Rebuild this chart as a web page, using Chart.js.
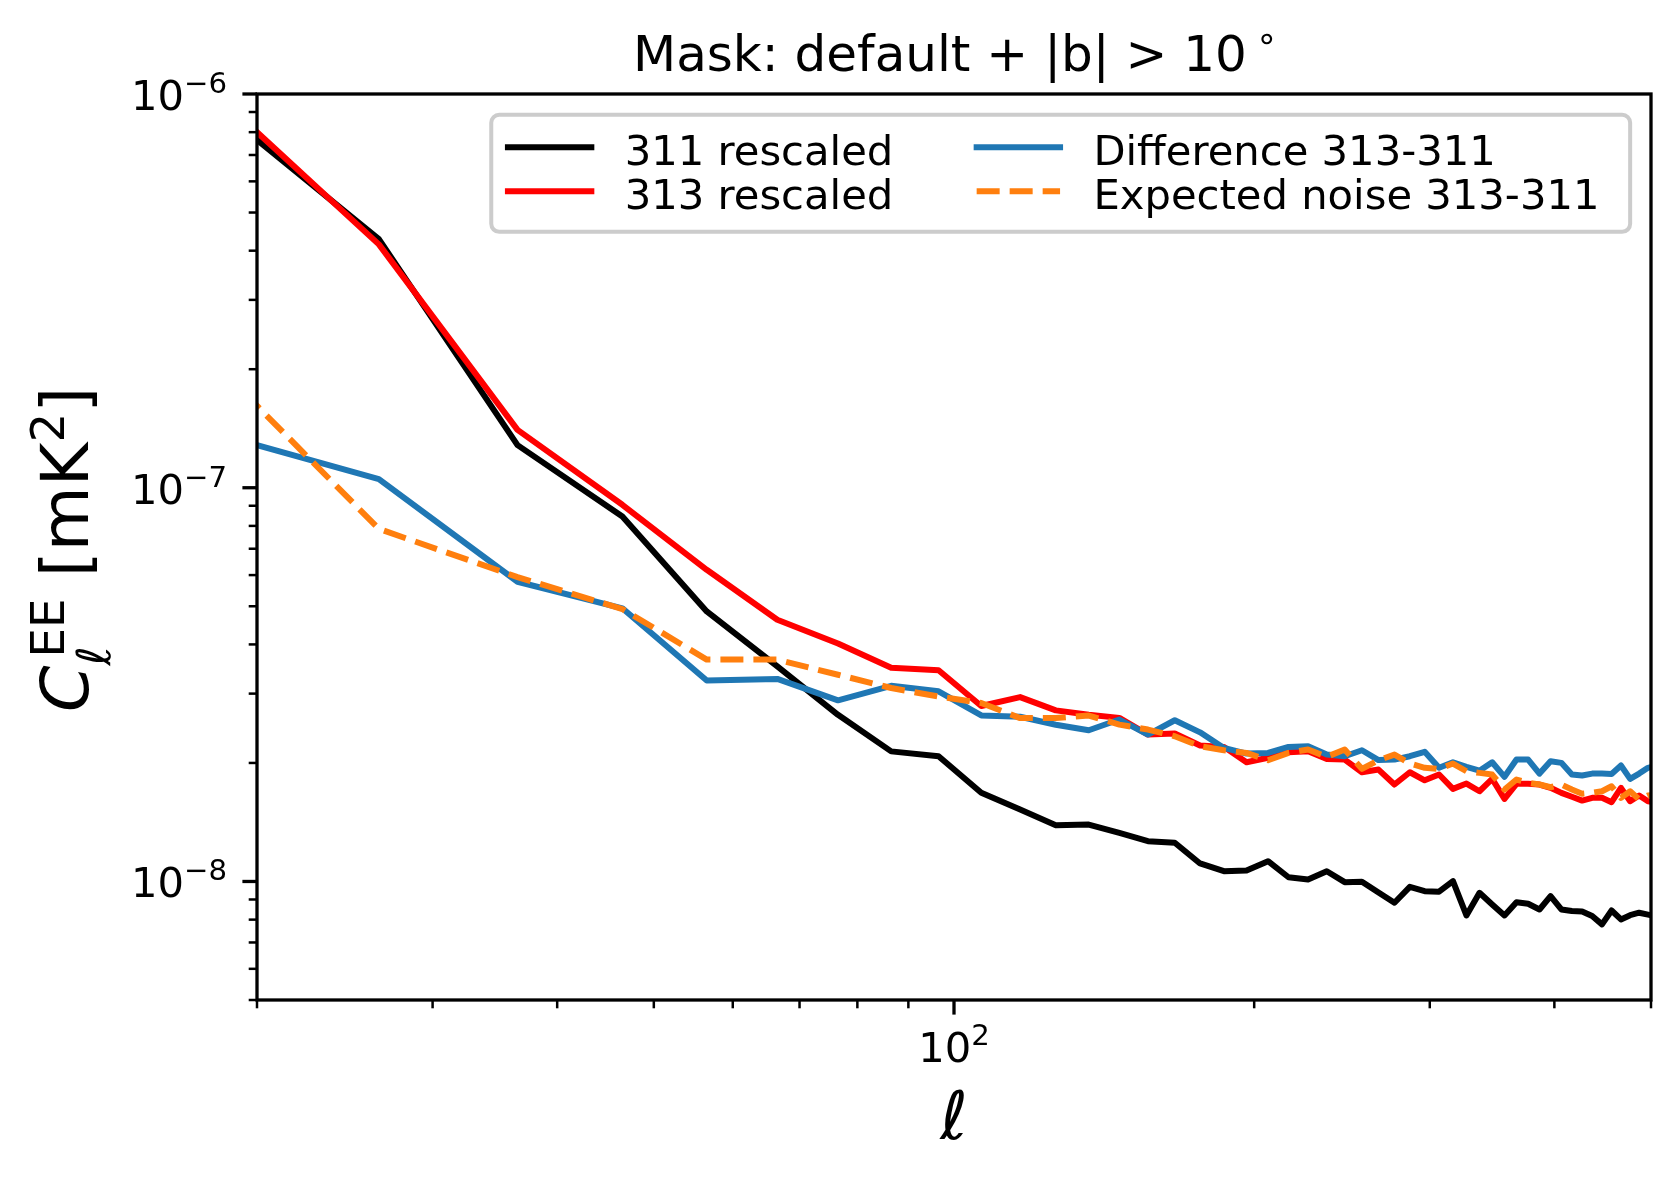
<!DOCTYPE html>
<html>
<head>
<meta charset="utf-8">
<script src="https://cdn.jsdelivr.net/npm/chart.js@4.4.0/dist/chart.umd.min.js"></script>
<style>
html, body { margin: 0; padding: 0; background: #fff; }
canvas { display: block; }
</style>
</head>
<body>
<canvas id="myChart" width="1680" height="1181"></canvas>
<script>
// binned multipoles (first and last bin fall just outside the plotted range)
var ells = [16.5, 26.5, 36.5, 46.5, 56.5, 66.5, 76.5, 86.5, 96.5, 106.5,
  116.5, 126.5, 136.5, 146.5, 156.5, 166.5, 176.5, 186.5, 196.5, 206.5,
  216.5, 226.5, 236.5, 246.5, 256.5, 266.5, 276.5, 286.5, 296.5, 306.5,
  316.5, 326.5, 336.5, 346.5, 356.5, 366.5, 376.5, 386.5, 396.5, 406.5,
  416.5, 426.5, 436.5, 446.5, 456.5, 466.5, 476.5, 486.5, 496.5, 506.5];

var cl311 = [1.136e-6, 4.28e-7, 1.283e-7, 8.45e-8, 4.85e-8, 3.52e-8, 2.65e-8, 2.14e-8, 2.08e-8, 1.68e-8,
  1.523e-8, 1.39e-8, 1.395e-8, 1.329e-8, 1.266e-8, 1.254e-8, 1.111e-8, 1.062e-8, 1.066e-8, 1.126e-8,
  1.025e-8, 1.012e-8, 1.062e-8, 9.96e-9, 9.98e-9, 9.38e-9, 8.83e-9, 9.69e-9, 9.45e-9, 9.42e-9,
  1.002e-8, 8.20e-9, 9.36e-9, 8.74e-9, 8.20e-9, 8.86e-9, 8.78e-9, 8.49e-9, 9.18e-9, 8.49e-9,
  8.41e-9, 8.39e-9, 8.17e-9, 7.78e-9, 8.44e-9, 8.01e-9, 8.21e-9, 8.33e-9, 8.24e-9, 8.15e-9];

var cl313 = [1.254e-6, 4.15e-7, 1.403e-7, 9.05e-8, 6.19e-8, 4.62e-8, 4.02e-8, 3.49e-8, 3.44e-8, 2.79e-8,
  2.94e-8, 2.72e-8, 2.65e-8, 2.603e-8, 2.361e-8, 2.375e-8, 2.214e-8, 2.197e-8, 2.008e-8, 2.061e-8,
  2.129e-8, 2.141e-8, 2.048e-8, 2.040e-8, 1.894e-8, 1.924e-8, 1.763e-8, 1.894e-8, 1.807e-8, 1.869e-8,
  1.719e-8, 1.773e-8, 1.695e-8, 1.822e-8, 1.621e-8, 1.770e-8, 1.770e-8, 1.763e-8, 1.729e-8, 1.679e-8,
  1.641e-8, 1.605e-8, 1.631e-8, 1.631e-8, 1.590e-8, 1.729e-8, 1.599e-8, 1.653e-8, 1.599e-8, 1.587e-8];

var diff = [1.469e-7, 1.052e-7, 5.77e-8, 4.94e-8, 3.24e-8, 3.27e-8, 2.885e-8, 3.14e-8, 3.04e-8, 2.64e-8,
  2.62e-8, 2.50e-8, 2.421e-8, 2.578e-8, 2.361e-8, 2.567e-8, 2.392e-8, 2.184e-8, 2.113e-8, 2.121e-8,
  2.197e-8, 2.205e-8, 2.100e-8, 2.080e-8, 2.154e-8, 2.034e-8, 2.040e-8, 2.080e-8, 2.134e-8, 1.944e-8,
  2.008e-8, 1.955e-8, 1.912e-8, 2.008e-8, 1.844e-8, 2.040e-8, 2.040e-8, 1.879e-8, 2.020e-8, 2.001e-8,
  1.869e-8, 1.858e-8, 1.879e-8, 1.879e-8, 1.876e-8, 1.970e-8, 1.822e-8, 1.879e-8, 1.944e-8, 1.970e-8];

var noise = [2.64e-7, 7.86e-8, 5.93e-8, 4.92e-8, 3.66e-8, 3.66e-8, 3.35e-8, 3.10e-8, 2.95e-8, 2.84e-8,
  2.60e-8, 2.60e-8, 2.638e-8, 2.503e-8, 2.431e-8, 2.338e-8, 2.205e-8, 2.154e-8, 2.121e-8, 2.032e-8,
  2.121e-8, 2.163e-8, 2.073e-8, 2.163e-8, 1.932e-8, 2.032e-8, 2.100e-8, 1.993e-8, 1.944e-8, 1.932e-8,
  1.993e-8, 1.905e-8, 1.887e-8, 1.869e-8, 1.712e-8, 1.815e-8, 1.781e-8, 1.763e-8, 1.735e-8, 1.763e-8,
  1.712e-8, 1.670e-8, 1.679e-8, 1.695e-8, 1.745e-8, 1.631e-8, 1.695e-8, 1.615e-8, 1.653e-8, 1.663e-8];

var xTicks = [20, 30, 40, 50, 60, 70, 80, 90, 100, 200, 300, 400, 500];
var yTicks = [5e-9, 6e-9, 7e-9, 8e-9, 9e-9,
  1e-8, 2e-8, 3e-8, 4e-8, 5e-8, 6e-8, 7e-8, 8e-8, 9e-8,
  1e-7, 2e-7, 3e-7, 4e-7, 5e-7, 6e-7, 7e-7, 8e-7, 9e-7, 1e-6];

var titleText = 'Mask: default + |b| > 10';
var FONT = '"DejaVu Sans", sans-serif';

function pts(vals) {
  return ells.map(function(l, i) { return { x: l, y: vals[i] }; });
}

function isPow10(v) {
  var l = Math.log10(v);
  return Math.abs(l - Math.round(l)) < 1e-9;
}

// "10" with a raised exponent, y is the baseline
function drawPow(ctx, x, y, exp, size, align) {
  ctx.font = size + 'px ' + FONT;
  var w1 = ctx.measureText('10').width;
  var ss = size * 0.7;
  ctx.font = ss + 'px ' + FONT;
  var w2 = ctx.measureText(exp).width;
  var x0 = align === 'right' ? x - w1 - w2 : x - (w1 + w2) / 2;
  ctx.textAlign = 'left';
  ctx.textBaseline = 'alphabetic';
  ctx.font = size + 'px ' + FONT;
  ctx.fillText('10', x0, y);
  ctx.font = ss + 'px ' + FONT;
  ctx.fillText(exp, x0 + w1, y - size * 0.41);
}

function roundRect(ctx, x, y, w, h, r) {
  ctx.beginPath();
  ctx.moveTo(x + r, y);
  ctx.arcTo(x + w, y, x + w, y + h, r);
  ctx.arcTo(x + w, y + h, x, y + h, r);
  ctx.arcTo(x, y + h, x, y, r);
  ctx.arcTo(x, y, x + w, y, r);
  ctx.closePath();
}

var axesPlugin = {
  id: 'mplAxes',
  afterDatasetsDraw: function(chart) {
    var ctx = chart.ctx, a = chart.chartArea;
    var xs = chart.scales.x, ys = chart.scales.y;
    ctx.save();
    ctx.strokeStyle = '#000';
    ctx.fillStyle = '#000';

    xs.ticks.forEach(function(t) {
      var px = xs.getPixelForValue(t.value);
      var major = isPow10(t.value);
      ctx.lineWidth = major ? 3.3 : 2.5;
      ctx.beginPath();
      ctx.moveTo(px, a.bottom);
      ctx.lineTo(px, a.bottom + (major ? 14.6 : 8.3));
      ctx.stroke();
      if (major) {
        drawPow(ctx, px, a.bottom + 62, String(Math.round(Math.log10(t.value))), 41.7, 'center');
      }
    });

    ys.ticks.forEach(function(t) {
      var py = ys.getPixelForValue(t.value);
      var major = isPow10(t.value);
      ctx.lineWidth = major ? 3.3 : 2.5;
      ctx.beginPath();
      ctx.moveTo(a.left, py);
      ctx.lineTo(a.left - (major ? 14.6 : 8.3), py);
      ctx.stroke();
      if (major) {
        var e = Math.round(Math.log10(t.value));
        drawPow(ctx, a.left - 30, py + 16, '\u2212' + Math.abs(e), 41.7, 'right');
      }
    });

    ctx.lineWidth = 3.3;
    ctx.strokeRect(a.left, a.top, a.right - a.left, a.bottom - a.top);

    // title
    ctx.textAlign = 'left';
    ctx.textBaseline = 'alphabetic';
    ctx.font = '50px ' + FONT;
    ctx.fillText(titleText, 633, 71);
    var tw = ctx.measureText(titleText).width;
    ctx.font = '35px ' + FONT;
    ctx.fillText('\u2218', 633 + tw + 9, 50);

    // x label
    ctx.font = 'italic 66.7px ' + FONT;
    ctx.textAlign = 'center';
    ctx.fillText('\u2113', (a.left + a.right) / 2, 1139);

    // y label, rotated
    ctx.save();
    ctx.translate(88, 712);
    ctx.rotate(-Math.PI / 2);
    ctx.textAlign = 'left';
    ctx.font = 'italic 66.7px ' + FONT;
    ctx.fillText('C', 0, 0);
    var u = ctx.measureText('C').width;
    ctx.font = 'italic 46.7px ' + FONT;
    ctx.fillText('\u2113', u, 22);
    var subEnd = u + ctx.measureText('\u2113').width;
    ctx.font = '46.7px ' + FONT;
    ctx.fillText('EE', u + 8, -24);
    u = Math.max(subEnd, u + 8 + ctx.measureText('EE').width);
    ctx.font = '66.7px ' + FONT;
    ctx.fillText(' [mK', u, 0);
    u += ctx.measureText(' [mK').width;
    ctx.font = '46.7px ' + FONT;
    ctx.fillText('2', u, -24);
    u += ctx.measureText('2').width;
    ctx.font = '66.7px ' + FONT;
    ctx.fillText(']', u, 0);
    ctx.restore();

    ctx.restore();
  }
};

var legendPlugin = {
  id: 'mplLegend',
  afterDraw: function(chart) {
    var ctx = chart.ctx, a = chart.chartArea;
    var ds = chart.data.datasets;
    var fs = 41.7;
    ctx.save();
    ctx.font = fs + 'px ' + FONT;
    var m = function(s) { return ctx.measureText(s).width; };
    var col1w = Math.max(m(ds[0].label), m(ds[1].label));
    var col2w = Math.max(m(ds[2].label), m(ds[3].label));
    var handle = 2 * fs, tpad = 0.8 * fs, cspace = 2 * fs, bpad = 0.4 * fs;
    var w = 2 * bpad + handle + tpad + col1w + cspace + handle + tpad + col2w + 14;
    var right = a.right - 0.5 * fs, top = a.top + 0.5 * fs;
    var left = right - w, h = 117;

    roundRect(ctx, left, top, w, h, 8);
    ctx.fillStyle = 'rgba(255,255,255,0.8)';
    ctx.fill();
    ctx.strokeStyle = '#cccccc';
    ctx.lineWidth = 4;
    ctx.stroke();

    var colX = [left + bpad, left + bpad + handle + tpad + col1w + cspace];
    var lineY = [top + 32.3, top + 76.4];
    var textY = [top + 50.3, top + 94.3];
    ds.forEach(function(d, i) {
      var c = Math.floor(i / 2), r = i % 2;
      var x0 = colX[c];
      ctx.strokeStyle = d.borderColor;
      ctx.lineWidth = d.borderWidth;
      ctx.setLineDash(d.borderDash || []);
      ctx.lineCap = d.borderDash ? 'butt' : 'square';
      ctx.beginPath();
      ctx.moveTo(x0, lineY[r]);
      ctx.lineTo(x0 + handle, lineY[r]);
      ctx.stroke();
      ctx.setLineDash([]);
      ctx.fillStyle = '#000';
      ctx.textAlign = 'left';
      ctx.textBaseline = 'alphabetic';
      ctx.fillText(d.label, x0 + handle + tpad, textY[r]);
    });
    ctx.restore();
  }
};

function lineSet(label, vals, color, order, dash) {
  var s = {
    label: label,
    data: pts(vals),
    borderColor: color,
    backgroundColor: color,
    borderWidth: 6,
    pointRadius: 0,
    tension: 0,
    fill: false,
    clip: 0,
    order: order,
    borderJoinStyle: 'round',
    borderCapStyle: 'butt'
  };
  if (dash) s.borderDash = dash;
  return s;
}

var ctx = document.getElementById('myChart').getContext('2d');
var chart = new Chart(ctx, {
  type: 'line',
  data: {
    datasets: [
      lineSet('311 rescaled', cl311, '#000000', 4),
      lineSet('313 rescaled', cl313, '#ff0000', 3),
      lineSet('Difference 313-311', diff, '#1f77b4', 2),
      lineSet('Expected noise 313-311', noise, '#ff7f0e', 1, [23, 10])
    ]
  },
  options: {
    responsive: false,
    animation: false,
    devicePixelRatio: 1,
    layout: { padding: { top: 94, right: 29, left: 0, bottom: 0 } },
    plugins: {
      legend: { display: false },
      title: { display: false },
      tooltip: { enabled: false }
    },
    scales: {
      x: {
        type: 'logarithmic',
        min: 20,
        max: 500,
        bounds: 'data',
        grid: { display: false },
        border: { display: false },
        ticks: { display: false },
        afterBuildTicks: function(scale) {
          scale.ticks = xTicks.map(function(v) { return { value: v }; });
        },
        afterFit: function(scale) { scale.height = 181; }
      },
      y: {
        type: 'logarithmic',
        min: 5e-9,
        max: 1e-6,
        bounds: 'data',
        grid: { display: false },
        border: { display: false },
        ticks: { display: false },
        afterBuildTicks: function(scale) {
          scale.ticks = yTicks.map(function(v) { return { value: v }; });
        },
        afterFit: function(scale) { scale.width = 257; }
      }
    }
  },
  plugins: [axesPlugin, legendPlugin]
});
</script>
</body>
</html>
